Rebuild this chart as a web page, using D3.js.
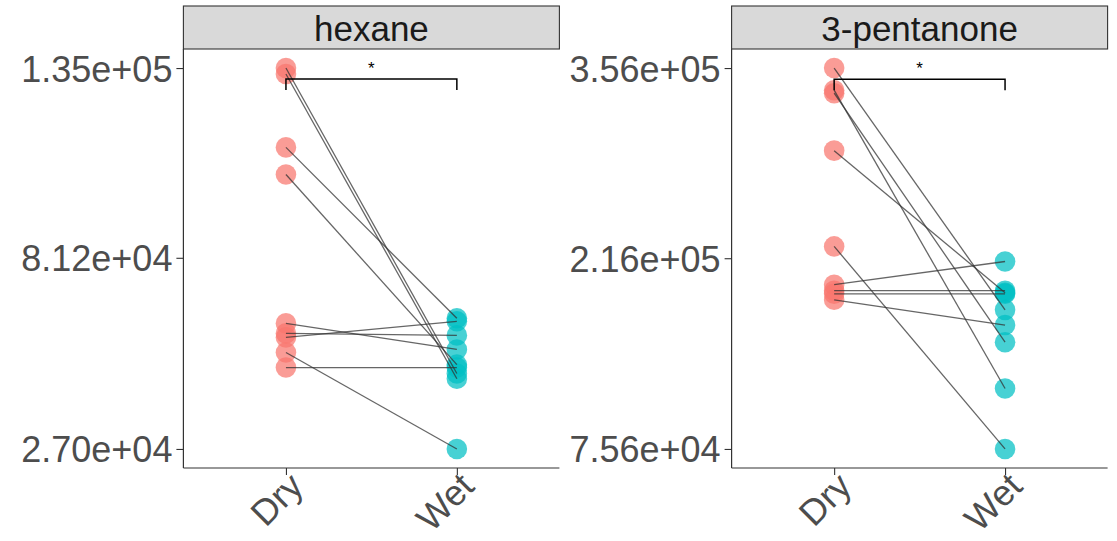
<!DOCTYPE html>
<html>
<head>
<meta charset="utf-8">
<script src="https://cdn.jsdelivr.net/npm/d3@7"></script>
<style>
  html, body { margin: 0; padding: 0; background: #fff; }
  svg { display: block; font-family: "Liberation Sans", Arial, sans-serif; }
</style>
</head>
<body>
<svg id="chart" width="1117" height="541"></svg>
<script>
// Paired measurements: each Dry value is joined to the Wet value at the same index.
const groups = ["Dry", "Wet"];

const hexaneDry = [135000, 133300, 112500, 104800, 62600, 59770, 58630, 54360, 50080];
const hexaneWet = [48400, 46900, 64050, 50900, 55210, 59200, 63190, 27000, 50080];
const hexaneTicks = [27000, 81200, 135000];
const hexaneTickLabels = ["2.70e+04", "8.12e+04", "1.35e+05"];
const hexaneBracket = 131900;

const pentanoneDry = [356000, 339700, 337500, 295200, 224700, 196500, 192100, 189800, 185400];
const pentanoneWet = [178000, 120100, 154200, 190600, 75600, 213600, 192100, 189800, 166800];
const pentanoneTicks = [75600, 216000, 356000];
const pentanoneTickLabels = ["7.56e+04", "2.16e+05", "3.56e+05"];
const pentanoneBracket = 347800;

const panels = [
  { title: "hexane", dry: hexaneDry, wet: hexaneWet, ticks: hexaneTicks, labels: hexaneTickLabels, bracket: hexaneBracket, x0: 183.4 },
  { title: "3-pentanone", dry: pentanoneDry, wet: pentanoneWet, ticks: pentanoneTicks, labels: pentanoneTickLabels, bracket: pentanoneBracket, x0: 731.6 }
];

const colors = { Dry: "#F8766D", Wet: "#00BFC4" };
const panelW = 376, panelTop = 49, panelBottom = 468, stripTop = 6;
const svg = d3.select("#chart");

panels.forEach(p => {
  const x = d3.scalePoint().domain(groups).range([p.x0, p.x0 + panelW]).padding(0.6);
  const all = p.dry.concat(p.wet);
  const [lo, hi] = d3.extent(all);
  const pad = (hi - lo) * 0.05;
  const y = d3.scaleLinear().domain([lo - pad, hi + pad]).range([panelBottom, panelTop]);

  const g = svg.append("g");

  // facet strip
  g.append("rect")
    .attr("x", p.x0).attr("y", stripTop)
    .attr("width", panelW).attr("height", panelTop - stripTop)
    .attr("fill", "#d9d9d9").attr("stroke", "#333").attr("stroke-width", 1.1);
  g.append("text")
    .attr("x", p.x0 + panelW / 2).attr("y", 41)
    .attr("text-anchor", "middle")
    .attr("font-size", 35).attr("fill", "#1a1a1a")
    .text(p.title);

  // y axis
  const yAxis = d3.axisLeft(y).tickValues(p.ticks).tickSize(7).tickPadding(4)
    .tickFormat((d, i) => p.labels[i]);
  const ya = g.append("g").attr("transform", `translate(${p.x0},0)`).call(yAxis);
  ya.select(".domain").remove();
  ya.selectAll(".tick line").attr("stroke", "#333").attr("stroke-width", 1.1);
  ya.selectAll(".tick text").attr("font-size", 36).attr("fill", "#4d4d4d")
    .attr("font-family", "Liberation Sans, Arial, sans-serif").attr("dy", "0.36em");
  g.append("line")
    .attr("x1", p.x0).attr("x2", p.x0).attr("y1", panelTop).attr("y2", panelBottom)
    .attr("stroke", "#333").attr("stroke-width", 1.2);

  // x axis
  const xAxis = d3.axisBottom(x).tickSize(7).tickFormat("");
  const xa = g.append("g").attr("transform", `translate(0,${panelBottom})`).call(xAxis);
  xa.select(".domain").remove();
  xa.selectAll(".tick line").attr("stroke", "#333").attr("stroke-width", 1.1);
  g.append("line")
    .attr("x1", p.x0).attr("x2", p.x0 + panelW).attr("y1", panelBottom).attr("y2", panelBottom)
    .attr("stroke", "#333").attr("stroke-width", 1.2);
  groups.forEach(k => {
    g.append("text")
      .attr("transform", `translate(${x(k) + 1},${470}) rotate(-45)`)
      .attr("text-anchor", "end")
      .attr("dy", "0.72em")
      .attr("font-size", 36).attr("fill", "#4d4d4d")
      .text(k);
  });

  // points
  const pts = [];
  p.dry.forEach(v => pts.push({ group: "Dry", v }));
  p.wet.forEach(v => pts.push({ group: "Wet", v }));
  g.append("g").selectAll("circle").data(pts).join("circle")
    .attr("cx", d => x(d.group)).attr("cy", d => y(d.v)).attr("r", 10.3)
    .attr("fill", d => colors[d.group]).attr("fill-opacity", 0.72);

  // paired lines
  const pairs = p.dry.map((v, i) => [v, p.wet[i]]);
  g.append("g").selectAll("line").data(pairs).join("line")
    .attr("x1", x("Dry")).attr("x2", x("Wet"))
    .attr("y1", d => y(d[0])).attr("y2", d => y(d[1]))
    .attr("stroke", "#333").attr("stroke-opacity", 0.75).attr("stroke-width", 1.3);

  // significance bracket
  const by = y(p.bracket);
  g.append("path")
    .attr("d", `M${x("Dry")},${by + 11}V${by}H${x("Wet")}V${by + 11}`)
    .attr("fill", "none").attr("stroke", "#000").attr("stroke-width", 1.5);
  g.append("text")
    .attr("x", (x("Dry") + x("Wet")) / 2).attr("y", by - 5)
    .attr("text-anchor", "middle").attr("font-size", 17).attr("fill", "#000")
    .text("*");
});
</script>
</body>
</html>
